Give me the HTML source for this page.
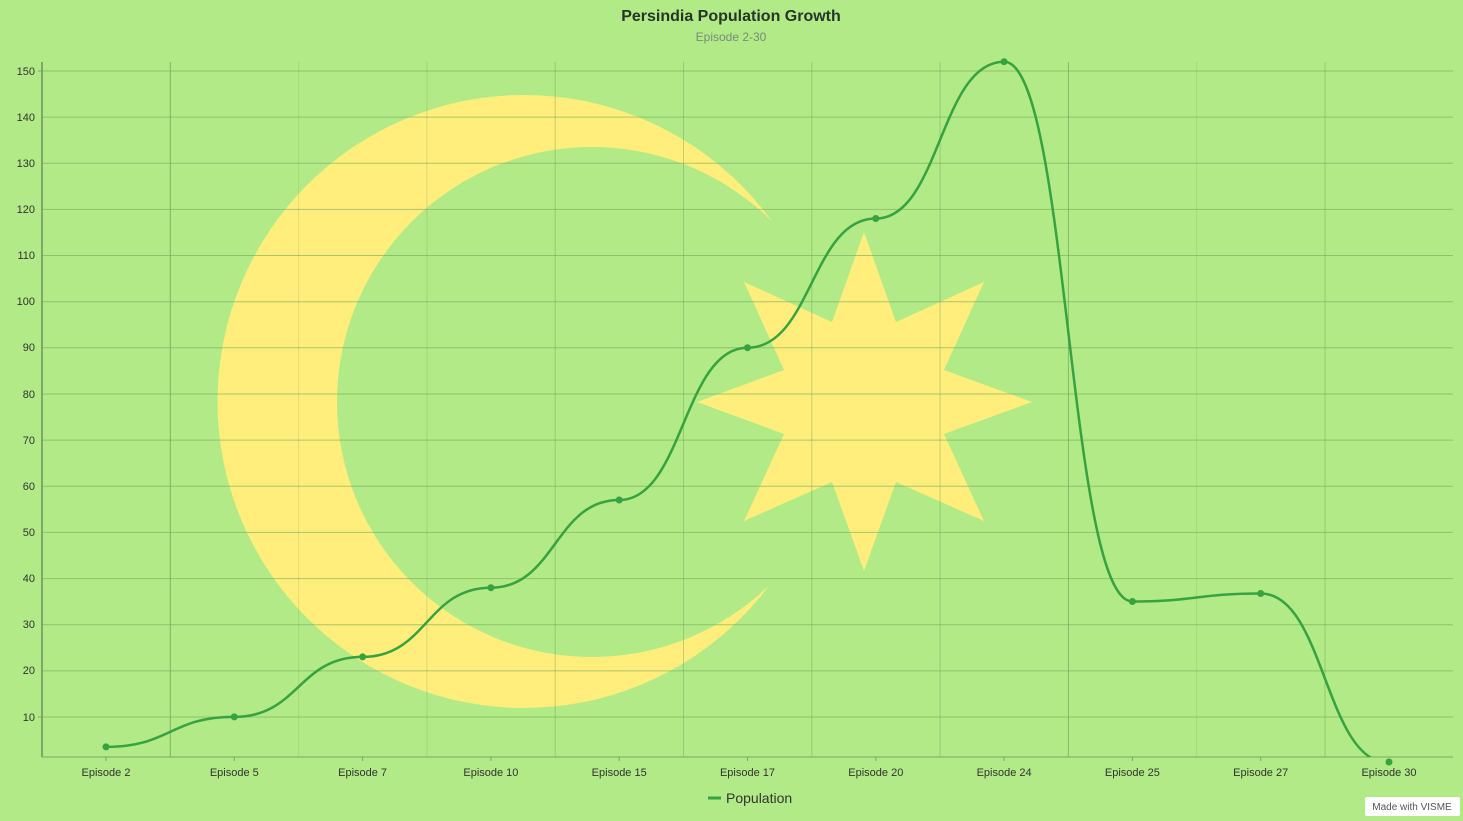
<!DOCTYPE html>
<html><head><meta charset="utf-8"><style>
html,body{margin:0;padding:0;background:#b1ea86;}
svg{display:block;font-family:"Liberation Sans",sans-serif;}
</style></head><body>
<svg width="1463" height="821" viewBox="0 0 1463 821" xmlns="http://www.w3.org/2000/svg">
<rect width="1463" height="821" fill="#b1ea86"/>
<defs>
<mask id="cm"><rect width="1463" height="821" fill="#fff"/><circle cx="592" cy="402" r="255" fill="#000"/></mask>
<clipPath id="pc"><rect x="42" y="40" width="1411" height="717"/></clipPath>
</defs>
<circle cx="524" cy="401.5" r="306.5" fill="#ffee7b" mask="url(#cm)"/>
<polygon fill="#ffee7b" points="864,232 896,322 984,282 944,370 1032,402 944,434 984,521 896,482 864,571 832,482 744,521 784,434 697,402 784,370 744,282 832,322"/>
<g stroke="#7fae5e" stroke-width="1" opacity="0.65">
<line x1="42" x2="1453" y1="71" y2="71"/><line x1="42" x2="1453" y1="117.1" y2="117.1"/><line x1="42" x2="1453" y1="163.3" y2="163.3"/><line x1="42" x2="1453" y1="209.4" y2="209.4"/><line x1="42" x2="1453" y1="255.5" y2="255.5"/><line x1="42" x2="1453" y1="301.7" y2="301.7"/><line x1="42" x2="1453" y1="347.8" y2="347.8"/><line x1="42" x2="1453" y1="394" y2="394"/><line x1="42" x2="1453" y1="440.1" y2="440.1"/><line x1="42" x2="1453" y1="486.3" y2="486.3"/><line x1="42" x2="1453" y1="532.4" y2="532.4"/><line x1="42" x2="1453" y1="578.6" y2="578.6"/><line x1="42" x2="1453" y1="624.7" y2="624.7"/><line x1="42" x2="1453" y1="670.9" y2="670.9"/><line x1="42" x2="1453" y1="717" y2="717"/>
</g>
<g stroke="#6f9a55" stroke-width="1">
<line x1="170.3" x2="170.3" y1="62" y2="757" opacity="0.7"/>
<line x1="298.6" x2="298.6" y1="62" y2="757" opacity="0.2"/>
<line x1="426.9" x2="426.9" y1="62" y2="757" opacity="0.25"/>
<line x1="555.2" x2="555.2" y1="62" y2="757" opacity="0.4"/>
<line x1="683.5" x2="683.5" y1="62" y2="757" opacity="0.4"/>
<line x1="811.8" x2="811.8" y1="62" y2="757" opacity="0.4"/>
<line x1="940.1" x2="940.1" y1="62" y2="757" opacity="0.4"/>
<line x1="1068.4" x2="1068.4" y1="62" y2="757" opacity="0.6"/>
<line x1="1196.7" x2="1196.7" y1="62" y2="757" opacity="0.2"/>
<line x1="1325" x2="1325" y1="62" y2="757" opacity="0.4"/>
</g>
<line x1="42" x2="42" y1="62" y2="757" stroke="#5d7a50" stroke-width="1.2"/>
<line x1="42" x2="1453" y1="757" y2="757" stroke="#7fa565" stroke-width="1"/>
<g stroke="#7fa565"><line x1="106" x2="106" y1="757" y2="761"/><line x1="234.3" x2="234.3" y1="757" y2="761"/><line x1="362.6" x2="362.6" y1="757" y2="761"/><line x1="490.9" x2="490.9" y1="757" y2="761"/><line x1="619.2" x2="619.2" y1="757" y2="761"/><line x1="747.5" x2="747.5" y1="757" y2="761"/><line x1="875.8" x2="875.8" y1="757" y2="761"/><line x1="1004.1" x2="1004.1" y1="757" y2="761"/><line x1="1132.4" x2="1132.4" y1="757" y2="761"/><line x1="1260.7" x2="1260.7" y1="757" y2="761"/>
<line x1="38" x2="42" y1="71" y2="71"/><line x1="38" x2="42" y1="717" y2="717"/></g>
<g font-size="11" fill="#333" text-anchor="end">
<text x="35" y="75">150</text><text x="35" y="121">140</text><text x="35" y="167">130</text><text x="35" y="213">120</text><text x="35" y="259">110</text><text x="35" y="305">100</text><text x="35" y="351">90</text><text x="35" y="398">80</text><text x="35" y="444">70</text><text x="35" y="490">60</text><text x="35" y="536">50</text><text x="35" y="582">40</text><text x="35" y="628">30</text><text x="35" y="674">20</text><text x="35" y="721">10</text>
</g>
<g font-size="11" fill="#333" text-anchor="middle">
<text x="106" y="776">Episode 2</text><text x="234.3" y="776">Episode 5</text><text x="362.6" y="776">Episode 7</text><text x="490.9" y="776">Episode 10</text><text x="619.2" y="776">Episode 15</text><text x="747.5" y="776">Episode 17</text><text x="875.8" y="776">Episode 20</text><text x="1004.1" y="776">Episode 24</text><text x="1132.4" y="776">Episode 25</text><text x="1260.7" y="776">Episode 27</text><text x="1389" y="776">Episode 30</text>
</g>
<path clip-path="url(#pc)" fill="none" stroke="#36a240" stroke-width="2.5" d="M106,746.9 C170.15,746.9 170.15,716.9 234.3,716.9 C298.45,716.9 298.45,656.9 362.6,656.9 C426.75,656.9 426.75,587.7 490.9,587.7 C555.05,587.7 555.05,500 619.2,500 C683.35,500 683.35,347.7 747.5,347.7 C811.65,347.7 811.65,218.5 875.8,218.5 C939.95,218.5 939.95,61.7 1004.1,61.7 C1068.25,61.7 1068.25,601.5 1132.4,601.5 C1196.55,601.5 1196.55,593.5 1260.7,593.5 C1324.85,593.5 1324.85,763 1389,763"/>
<g fill="#36a240">
<circle cx="106" cy="746.9" r="3.5"/><circle cx="234.3" cy="716.9" r="3.5"/><circle cx="362.6" cy="656.9" r="3.5"/><circle cx="490.9" cy="587.7" r="3.5"/><circle cx="619.2" cy="500" r="3.5"/><circle cx="747.5" cy="347.7" r="3.5"/><circle cx="875.8" cy="218.5" r="3.5"/><circle cx="1004.1" cy="61.7" r="3.5"/><circle cx="1132.4" cy="601.5" r="3.5"/><circle cx="1260.7" cy="593.5" r="3.5"/><circle cx="1389" cy="762" r="3.5"/>
</g>
<text x="731" y="21" text-anchor="middle" font-size="16" font-weight="bold" fill="#24362a">Persindia Population Growth</text>
<text x="731" y="41" text-anchor="middle" font-size="12" fill="#7a8a78">Episode 2-30</text>
<line x1="708" x2="721" y1="798" y2="798" stroke="#36a240" stroke-width="3"/>
<text x="726" y="803" font-size="14" fill="#333">Population</text>
<rect x="1365" y="797" width="95" height="19" fill="#fff" rx="2"/>
<text x="1412" y="810" text-anchor="middle" font-size="10" fill="#555">Made with VISME</text>
</svg>
</body></html>
